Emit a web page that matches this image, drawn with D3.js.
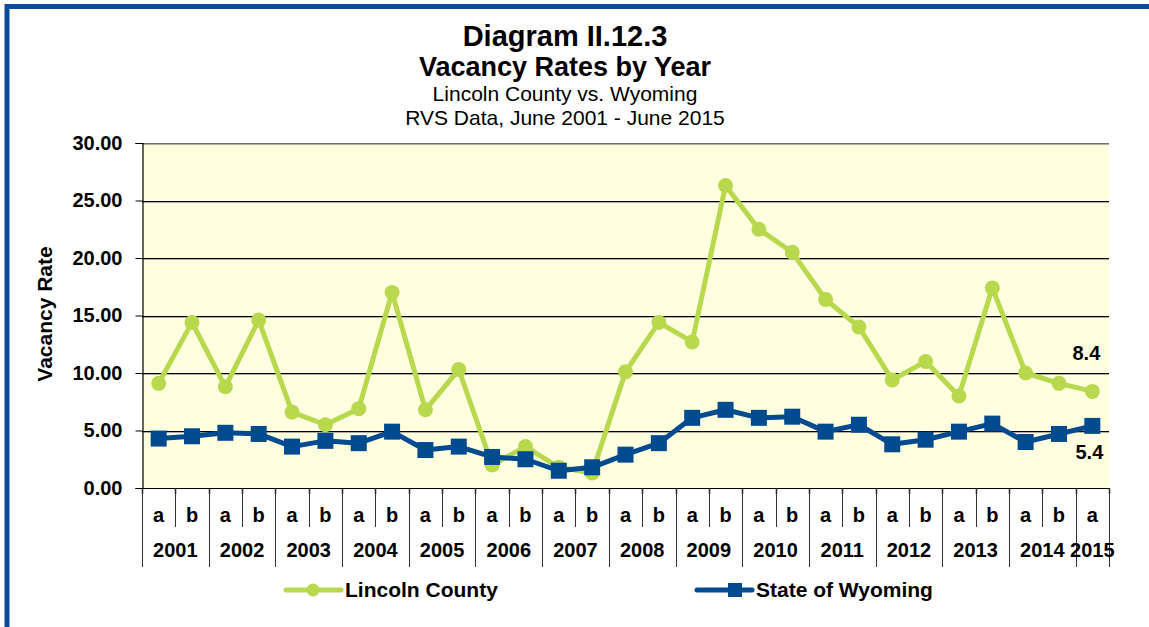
<!DOCTYPE html>
<html>
<head>
<meta charset="utf-8">
<script src="https://cdn.jsdelivr.net/npm/d3@7"></script>
<style>
  html, body { margin: 0; padding: 0; background: #fff; }
  svg { display: block; font-family: "Liberation Sans", Arial, sans-serif; }
</style>
</head>
<body>
<svg id="chart" width="1149" height="627"></svg>
<script>
// ---- Data ----
const years = ["2001","2002","2003","2004","2005","2006","2007","2008","2009","2010","2011","2012","2013","2014","2015"];
const halves = ["a","b","a","b","a","b","a","b","a","b","a","b","a","b","a","b","a","b","a","b","a","b","a","b","a","b","a","b","a"];
const categories = halves.map((h, i) => years[Math.floor(i / 2)] + h);
const lincoln = [9.1, 14.4, 8.8, 14.6, 6.6, 5.5, 6.9, 17.0, 6.8, 10.3, 2.0, 3.6, 1.8, 1.3, 10.1, 14.4, 12.7, 26.3, 22.5, 20.5, 16.4, 14.0, 9.4, 11.0, 8.0, 17.4, 10.0, 9.1, 8.4];
const wyoming = [4.3, 4.5, 4.8, 4.7, 3.6, 4.1, 3.9, 4.9, 3.3, 3.6, 2.7, 2.5, 1.5, 1.8, 2.9, 3.9, 6.1, 6.8, 6.1, 6.2, 4.9, 5.5, 3.8, 4.2, 4.9, 5.6, 4.0, 4.7, 5.4];
const yTicks = [0, 5, 10, 15, 20, 25, 30];
const endLabels = ["8.4", "5.4"];
const seriesNames = ["Lincoln County", "State of Wyoming"];

// ---- Layout ----
const svg = d3.select("#chart");
const plot = { left: 142, right: 1109, top: 143, bottom: 488 };
const green = "#B8D84E", blue = "#004A90";

// border
svg.append("rect").attr("x", 7).attr("y", 6.5).attr("width", 1300).attr("height", 800)
  .attr("fill", "none").attr("stroke", "#0B4C9A").attr("stroke-width", 5);

const x = d3.scaleBand().domain(categories).range([plot.left, plot.right]).padding(0);
const y = d3.scaleLinear().domain([0, 30]).range([plot.bottom, plot.top]);

// plot background
svg.append("rect").attr("x", plot.left).attr("y", plot.top)
  .attr("width", plot.right - plot.left).attr("height", plot.bottom - plot.top)
  .attr("fill", "#FFFFE0");

// gridlines
const grid = svg.append("g");
yTicks.filter(t => t > 0).forEach(t => {
  const yy = Math.round(y(t));
  grid.append("line").attr("x1", plot.left).attr("x2", plot.right)
    .attr("y1", yy + 1.5).attr("y2", yy + 1.5).attr("stroke", "#b0b0a0").attr("stroke-width", 1);
  grid.append("line").attr("x1", plot.left).attr("x2", plot.right)
    .attr("y1", yy + 0.5).attr("y2", yy + 0.5)
    .attr("stroke", t === 30 ? "#707070" : "#000").attr("stroke-width", 1.2);
});

// y axis
const yAxis = d3.axisLeft(y).tickValues(yTicks).tickFormat(d3.format(".2f")).tickSize(7).tickPadding(13);
const yg = svg.append("g").attr("transform", `translate(${plot.left + 0.5},0)`).call(yAxis);
yg.select(".domain").attr("stroke", "#000").attr("stroke-width", 1.2);
yg.selectAll(".tick line").attr("stroke", "#000");
yg.selectAll(".tick text").attr("font-size", 20).attr("font-weight", "bold")
  .attr("font-family", "Liberation Sans, Arial, sans-serif").attr("fill", "#000");

// x axis (multi-level)
const xg = svg.append("g");
xg.append("line").attr("x1", plot.left).attr("x2", plot.right)
  .attr("y1", plot.bottom + 0.5).attr("y2", plot.bottom + 0.5).attr("stroke", "#000").attr("stroke-width", 1.2);
const bounds = categories.map(c => x(c)).concat([plot.right]);
bounds.forEach((bx, i) => {
  const yearBoundary = (i % 2 === 0) || i === categories.length;
  const xx = Math.round(bx) + 0.5;
  xg.append("line").attr("x1", xx).attr("x2", xx)
    .attr("y1", plot.bottom).attr("y2", plot.bottom + 6).attr("stroke", "#000").attr("stroke-width", 1.5);
  xg.append("line").attr("x1", xx).attr("x2", xx)
    .attr("y1", plot.bottom).attr("y2", yearBoundary ? 567 : 527)
    .attr("stroke", "#333").attr("stroke-width", 1);
});
categories.forEach((c, i) => {
  xg.append("text").attr("x", x(c) + x.bandwidth() / 2).attr("y", 522)
    .attr("text-anchor", "middle").attr("font-size", 20).attr("font-weight", "bold").text(halves[i]);
});
years.forEach((yr, j) => {
  const cats = categories.filter((c, i) => Math.floor(i / 2) === j);
  const cx = (x(cats[0]) + x(cats[cats.length - 1]) + x.bandwidth()) / 2;
  xg.append("text").attr("x", cx).attr("y", 557)
    .attr("text-anchor", "middle").attr("font-size", 20).attr("font-weight", "bold").text(yr);
});

// lines
const cxf = i => x(categories[i]) + x.bandwidth() / 2;
const line = d3.line().x((d, i) => cxf(i)).y(d => y(d));
svg.append("path").datum(lincoln).attr("d", line).attr("fill", "none")
  .attr("stroke", green).attr("stroke-width", 5).attr("stroke-linejoin", "round");
svg.append("g").selectAll("circle").data(lincoln).join("circle")
  .attr("cx", (d, i) => cxf(i)).attr("cy", d => y(d)).attr("r", 7.5).attr("fill", green);

svg.append("path").datum(wyoming).attr("d", line).attr("fill", "none")
  .attr("stroke", blue).attr("stroke-width", 5).attr("stroke-linejoin", "round");
const sq = 16;
svg.append("g").selectAll("rect").data(wyoming).join("rect")
  .attr("x", (d, i) => cxf(i) - sq / 2).attr("y", d => y(d) - sq / 2)
  .attr("width", sq).attr("height", sq).attr("fill", blue);

// end labels
const last = categories.length - 1;
svg.append("text").attr("x", cxf(last) + 8).attr("y", y(lincoln[last]) - 31)
  .attr("text-anchor", "end").attr("font-size", 20).attr("font-weight", "bold").text(endLabels[0]);
svg.append("text").attr("x", cxf(last) + 11).attr("y", y(wyoming[last]) + 33)
  .attr("text-anchor", "end").attr("font-size", 20).attr("font-weight", "bold").text(endLabels[1]);

// titles
const cxT = 565;
svg.append("text").attr("x", cxT).attr("y", 46).attr("text-anchor", "middle")
  .attr("font-size", 29).attr("font-weight", "bold").text("Diagram II.12.3");
svg.append("text").attr("x", cxT).attr("y", 76).attr("text-anchor", "middle")
  .attr("font-size", 27).attr("font-weight", "bold").text("Vacancy Rates by Year");
svg.append("text").attr("x", cxT).attr("y", 101).attr("text-anchor", "middle")
  .attr("font-size", 21).text("Lincoln County vs. Wyoming");
svg.append("text").attr("x", cxT).attr("y", 125).attr("text-anchor", "middle")
  .attr("font-size", 21).text("RVS Data, June 2001 - June 2015");

// y axis title
svg.append("text").attr("transform", "translate(52,314) rotate(-90)").attr("text-anchor", "middle")
  .attr("font-size", 21).attr("font-weight", "bold").text("Vacancy Rate");

// legend
const leg = svg.append("g");
const legItems = [
  { name: seriesNames[0], color: green, x0: 286, shape: "circle" },
  { name: seriesNames[1], color: blue, x0: 697, shape: "square" }
];
legItems.forEach(it => {
  const ly = 590;
  leg.append("line").attr("x1", it.x0).attr("x2", it.x0 + 55).attr("y1", ly).attr("y2", ly)
    .attr("stroke", it.color).attr("stroke-width", 5).attr("stroke-linecap", "round");
  if (it.shape === "circle") {
    leg.append("circle").attr("cx", it.x0 + 27).attr("cy", ly).attr("r", 6.5).attr("fill", it.color);
  } else {
    leg.append("rect").attr("x", it.x0 + 31).attr("y", ly - 7).attr("width", 14).attr("height", 14).attr("fill", it.color);
  }
  leg.append("text").attr("x", it.x0 + 59).attr("y", ly + 7).attr("font-size", 21)
    .attr("font-weight", "bold").text(it.name);
});
</script>
</body>
</html>
